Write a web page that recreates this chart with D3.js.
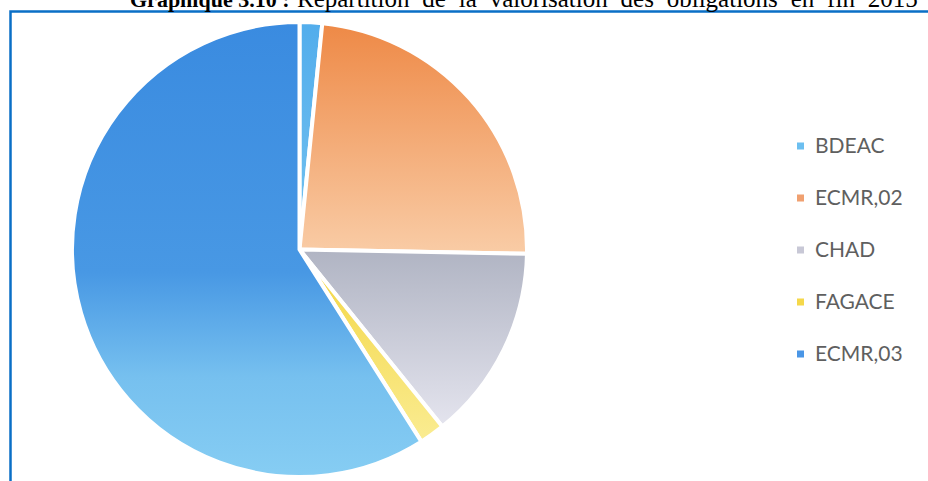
<!DOCTYPE html>
<html lang="fr">
<head>
	<meta charset="utf-8">
	<title>Graphique 3.10</title>
	<script src="https://d3js.org/d3.v7.min.js"></script>
	<style>
		body { margin: 0; background: #fff; }
		.legend text { font-family: Lato, "Liberation Sans", sans-serif; fill: #5f5f5f; }
		.title { font-family: "Liberation Serif", "Times New Roman", serif; fill: #000; }
	</style>
</head>
<body>
	<div id="chart"></div>

	<script>

	var width = 928, height = 481;

	// data (percent of total)
	var labels = ["BDEAC", "ECMR,02", "CHAD", "FAGACE", "ECMR,03"];
	var values = [1.6, 23.7, 13.9, 1.8, 59.0];

	// gradient colours per slice: top / bottom
	var topColors = ["#52adec", "#ee8946", "#b0b4c3", "#f3d540", "#3a8be0"];
	var bottomColors = ["#74c2f0", "#f9cca6", "#e4e4ee", "#faec92", "#86cdf3"];
	var swatchColors = ["#6cbff0", "#f0a070", "#c8c8d6", "#f5d84a", "#4a96e6"];

	var svg = d3.select("#chart").append("svg")
		.attr("width", width)
		.attr("height", height);

	// frame (only top and left edges are visible in the crop)
	svg.append("path")
		.attr("d", "M10.5,481 L10.5,11.5 L928,11.5")
		.attr("fill", "none")
		.attr("stroke", "#0a6fc6")
		.attr("stroke-width", 2.5);

	// title, cut off at the top
	var title = svg.append("text")
		.attr("class", "title")
		.attr("y", 7);
	title.append("tspan")
		.attr("x", 130)
		.attr("font-size", 22)
		.attr("font-weight", "bold")
		.text("Graphique 3.10 :");
	title.append("tspan")
		.attr("x", 297)
		.attr("font-size", 25)
		.attr("word-spacing", 6.6)
		.text("Répartition de la valorisation des obligations en fin 2015");

	//------------------------------------------------------------------------
	// PIE
	var cx = 299.5, cy = 249.5, radius = 227.5;

	var defs = svg.append("defs");
	labels.forEach(function(d, i) {
		var grad = defs.append("linearGradient")
			.attr("id", "grad" + i)
			.attr("x1", 0).attr("y1", 0)
			.attr("x2", 0).attr("y2", 1);
		grad.append("stop").attr("offset", "0%").attr("stop-color", topColors[i]);
		if (i == 4) {
			// big slice keeps dark blue down past the middle, then brightens fast
			grad.append("stop").attr("offset", "55%").attr("stop-color", "#4898e4");
			grad.append("stop").attr("offset", "78%").attr("stop-color", "#76c0ef");
		}
		grad.append("stop").attr("offset", "100%").attr("stop-color", bottomColors[i]);
	});

	var pie = d3.pie()
		.sort(null)
		.value(function(d) { return d; });

	var arc = d3.arc()
		.innerRadius(0)
		.outerRadius(radius);

	var g = svg.append("g")
		.attr("transform", "translate(" + cx + "," + cy + ")");

	g.selectAll("path")
		.data(pie(values))
		.enter().append("path")
		.attr("d", arc)
		.attr("fill", function(d, i) { return "url(#grad" + i + ")"; })
		.attr("stroke", "#fff")
		.attr("stroke-width", 4)
		.attr("stroke-linejoin", "round");

	//------------------------------------------------------------------------
	// LEGEND
	var y = d3.scalePoint()
		.domain(labels)
		.range([146, 354]);

	var legend = svg.append("g")
		.attr("class", "legend")
		.selectAll("g")
		.data(labels)
		.enter().append("g")
		.attr("transform", function(d) { return "translate(797," + y(d) + ")"; });

	legend.append("rect")
		.attr("x", 0)
		.attr("y", -3.5)
		.attr("width", 7)
		.attr("height", 7)
		.attr("fill", function(d, i) { return swatchColors[i]; });

	legend.append("text")
		.attr("x", 18)
		.attr("dy", "0.35em")
		.attr("font-size", 21)
		.text(function(d) { return d; });

	</script>
</body>
</html>
